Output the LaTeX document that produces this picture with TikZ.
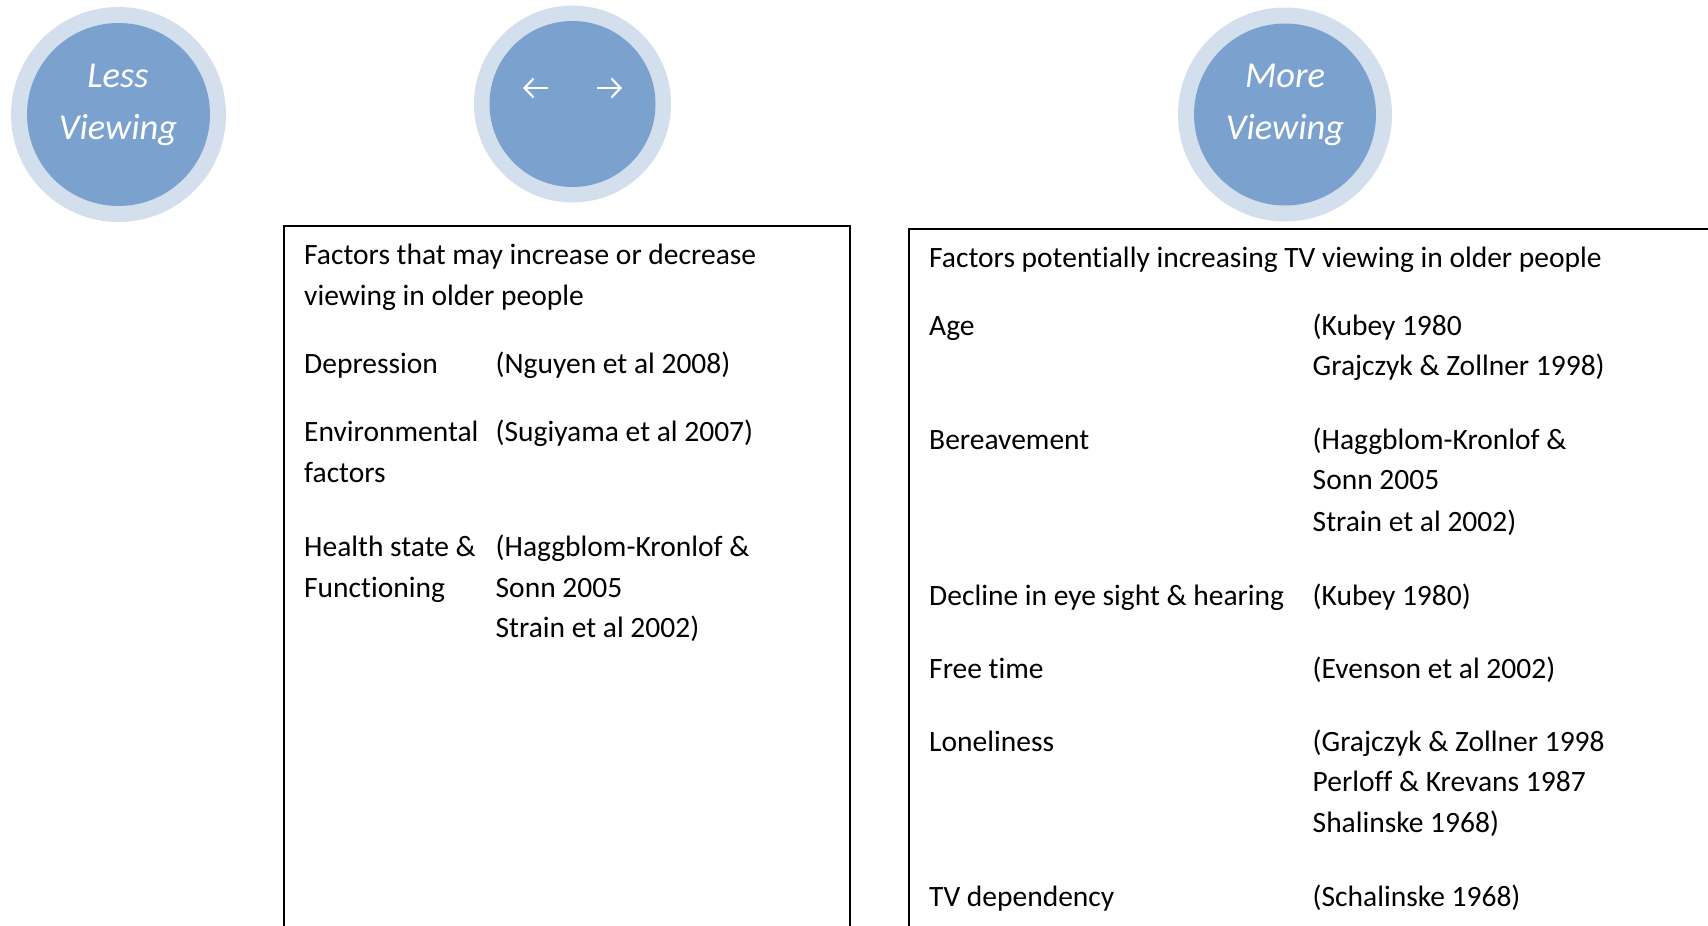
\documentclass[tikz,border=0pt]{standalone}
\usepackage{fontspec}
\setmainfont{Carlito}[Ligatures=NoCommon]
\usetikzlibrary{arrows.meta}
\definecolor{ring}{HTML}{D4DFEE}
\definecolor{disc}{HTML}{7BA1CE}
\begin{document}
\begin{tikzpicture}[x=1pt,y=-1pt,
  ringc/.style={circle,fill=ring,inner sep=0pt,draw=none},
  discc/.style={circle,fill=disc,inner sep=0pt,draw=none},
  ctext/.style={text=white,font=\fontsize{36.5}{44}\selectfont\itshape,inner sep=0pt,anchor=base},
  ln/.style={font=\fontsize{29.5}{41}\selectfont,inner sep=0pt,anchor=base west},
  boxline/.style={draw=black,line width=2pt},
  warrow/.style={draw=white,line width=2.2pt,-{Straight Barb[length=9pt,width=19pt]}}]
\useasboundingbox (0,0) rectangle (1708,926);
\clip (0,0) rectangle (1708,926);
% circles
\node[ringc,minimum size=215] (lessO) at (118.5,114.5) {};
\node[discc,minimum size=183] (lessI) at (118.5,114.5) {};
\node[ringc,minimum size=197] (midO) at (572.5,104) {};
\node[discc,minimum size=166] (midI) at (572.5,104) {};
\node[ringc,minimum size=214] (moreO) at (1285,114.5) {};
\node[discc,minimum size=182] (moreI) at (1285,114.5) {};
\node[ctext] (less1) at (118,87) {Less};
\node[ctext] (less2) at (118,139) {Viewing};
\node[ctext] (more1) at (1285,87) {More};
\node[ctext] (more2) at (1285,139) {Viewing};
\coordinate (la) at (548,88);
\coordinate (lb) at (523,88);
\coordinate (ra) at (597,88);
\coordinate (rb) at (622,88);
\draw[warrow] (la) -- (lb);
\draw[warrow] (ra) -- (rb);
% boxes
\draw[boxline] (283.5,960) -- (283.5,226) -- (850,226) -- (850,960);
\draw[boxline] (908.5,960) -- (908.5,229) -- (1720,229);
% left box text
\node[ln] (l1) at (304,264) {Factors that may increase or decrease};
\node[ln] (l2) at (304,305) {viewing in older people};
\node[ln] (l3) at (304,373) {Depression};
\node[ln] (l3b) at (495.5,373) {(Nguyen et al 2008)};
\node[ln] (l4) at (304,441) {Environmental};
\node[ln] (l4b) at (495.5,441) {(Sugiyama et al 2007)};
\node[ln] (l5) at (304,482) {factors};
\node[ln] (l6) at (304,556) {Health state \&};
\node[ln] (l6b) at (495.5,556) {(Haggblom-Kronlof \&};
\node[ln] (l7) at (304,597) {Functioning};
\node[ln] (l7b) at (495.5,597) {Sonn 2005};
\node[ln] (l8b) at (495.5,637) {Strain et al 2002)};
% right box text
\node[ln] (r1) at (929,267) {Factors potentially increasing TV viewing in older people};
\node[ln] (r2) at (929,335) {Age};
\node[ln] (r2b) at (1312.5,335) {(Kubey 1980};
\node[ln] (r3b) at (1312.5,375) {Grajczyk \& Zollner 1998)};
\node[ln] (r4) at (929,449) {Bereavement};
\node[ln] (r4b) at (1312.5,449) {(Haggblom-Kronlof \&};
\node[ln] (r5b) at (1312.5,489) {Sonn 2005};
\node[ln] (r6b) at (1312.5,531) {Strain et al 2002)};
\node[ln] (r7) at (929,605) {Decline in eye sight \& hearing};
\node[ln] (r7b) at (1312.5,605) {(Kubey 1980)};
\node[ln] (r8) at (929,678) {Free time};
\node[ln] (r8b) at (1312.5,678) {(Evenson et al 2002)};
\node[ln] (r9) at (929,751) {Loneliness};
\node[ln] (r9b) at (1312.5,751) {(Grajczyk \& Zollner 1998};
\node[ln] (r10b) at (1312.5,791) {Perloff \& Krevans 1987};
\node[ln] (r11b) at (1312.5,832.5) {Shalinske 1968)};
\node[ln] (r12) at (929,906.5) {TV dependency};
\node[ln] (r12b) at (1312.5,906.5) {(Schalinske 1968)};
\end{tikzpicture}
\end{document}
